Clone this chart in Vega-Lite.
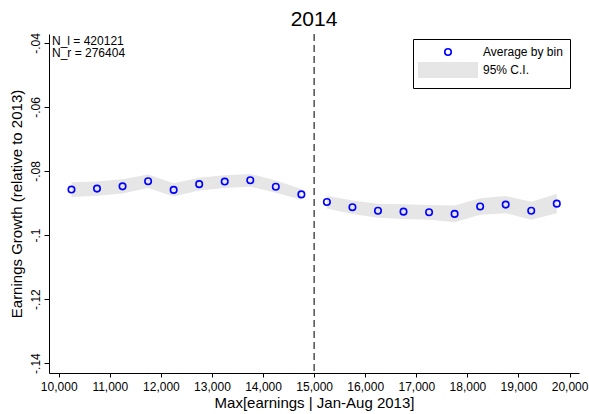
{
  "$schema": "https://vega.github.io/schema/vega-lite/v6.json",
  "width": 530,
  "height": 339,
  "autosize": {"type": "none"},
  "padding": {"left": 49, "top": 34, "right": 10, "bottom": 41},
  "background": "white",
  "title": {"text": "2014", "fontSize": 21, "font": "Liberation Sans", "fontWeight": "normal", "color": "black", "anchor": "middle", "offset": 3},
  "config": {
    "font": "Liberation Sans",
    "view": {"stroke": null},
    "axis": {"grid": false, "domainColor": "black", "tickColor": "black", "labelColor": "black", "titleColor": "black", "labelFont": "Liberation Sans", "titleFont": "Liberation Sans", "titleFontWeight": "normal", "labelFontSize": 12, "titleFontSize": 15, "labelFlush": false, "labelOverlap": false}
  },
  "datasets": {
    "bins": [
      {"bin": 10250, "avg": -0.0858, "hi": -0.0835, "lo": -0.0881, "side": "left", "series": "Average by bin"},
      {"bin": 10750, "avg": -0.0855, "hi": -0.0833, "lo": -0.0877, "side": "left", "series": "Average by bin"},
      {"bin": 11250, "avg": -0.0848, "hi": -0.0826, "lo": -0.0870, "side": "left", "series": "Average by bin"},
      {"bin": 11750, "avg": -0.0832, "hi": -0.0811, "lo": -0.0853, "side": "left", "series": "Average by bin"},
      {"bin": 12250, "avg": -0.0859, "hi": -0.0838, "lo": -0.0880, "side": "left", "series": "Average by bin"},
      {"bin": 12750, "avg": -0.0841, "hi": -0.0821, "lo": -0.0861, "side": "left", "series": "Average by bin"},
      {"bin": 13250, "avg": -0.0833, "hi": -0.0813, "lo": -0.0853, "side": "left", "series": "Average by bin"},
      {"bin": 13750, "avg": -0.0829, "hi": -0.0809, "lo": -0.0849, "side": "left", "series": "Average by bin"},
      {"bin": 14250, "avg": -0.0849, "hi": -0.0830, "lo": -0.0868, "side": "left", "series": "Average by bin"},
      {"bin": 14750, "avg": -0.0873, "hi": -0.0856, "lo": -0.0890, "side": "left", "series": "Average by bin"},
      {"bin": 15250, "avg": -0.0897, "hi": -0.0877, "lo": -0.0917, "side": "right", "series": "Average by bin"},
      {"bin": 15750, "avg": -0.0913, "hi": -0.0892, "lo": -0.0934, "side": "right", "series": "Average by bin"},
      {"bin": 16250, "avg": -0.0924, "hi": -0.0902, "lo": -0.0946, "side": "right", "series": "Average by bin"},
      {"bin": 16750, "avg": -0.0927, "hi": -0.0904, "lo": -0.0950, "side": "right", "series": "Average by bin"},
      {"bin": 17250, "avg": -0.0929, "hi": -0.0906, "lo": -0.0952, "side": "right", "series": "Average by bin"},
      {"bin": 17750, "avg": -0.0934, "hi": -0.0908, "lo": -0.0960, "side": "right", "series": "Average by bin"},
      {"bin": 18250, "avg": -0.0911, "hi": -0.0885, "lo": -0.0937, "side": "right", "series": "Average by bin"},
      {"bin": 18750, "avg": -0.0905, "hi": -0.0878, "lo": -0.0932, "side": "right", "series": "Average by bin"},
      {"bin": 19250, "avg": -0.0924, "hi": -0.0896, "lo": -0.0952, "side": "right", "series": "Average by bin"},
      {"bin": 19750, "avg": -0.0902, "hi": -0.0872, "lo": -0.0932, "side": "right", "series": "Average by bin"}
    ],
    "cutoff": [{"cut": 15000}],
    "notes": [{"label": "N_l = 420121\nN_r = 276404"}]
  },
  "layer": [
    {
      "data": {"name": "bins"},
      "mark": {"type": "area", "color": "#e6e6e6", "opacity": 1},
      "encoding": {
        "x": {
          "field": "bin", "type": "quantitative",
          "scale": {"domain": [9810, 20185], "nice": false, "zero": false},
          "axis": {"title": "Max[earnings | Jan-Aug 2013]", "values": [10000, 11000, 12000, 13000, 14000, 15000, 16000, 17000, 18000, 19000, 20000], "format": ",d", "tickSize": 4, "labelPadding": 4, "titlePadding": 3}
        },
        "y": {
          "field": "hi", "type": "quantitative",
          "scale": {"domain": [-0.1431, -0.0372], "nice": false, "zero": false},
          "axis": {"title": "Earnings Growth (relative to 2013)", "values": [-0.14, -0.12, -0.1, -0.08, -0.06, -0.04], "labelExpr": "'-.' + slice(format(-datum.value, '.2~f'), 2)", "labelAngle": -90, "labelAlign": "center", "labelBaseline": "alphabetic", "tickSize": 5, "labelPadding": 5, "titlePadding": 5}
        },
        "y2": {"field": "lo"},
        "detail": {"field": "side"}
      }
    },
    {
      "data": {"name": "cutoff"},
      "mark": {"type": "rule", "color": "#222222", "strokeWidth": 1.2, "strokeDash": [7, 4]},
      "encoding": {"x": {"field": "cut", "type": "quantitative"}}
    },
    {
      "data": {"name": "bins"},
      "mark": {"type": "point", "strokeWidth": 1.6, "size": 42, "opacity": 1},
      "encoding": {
        "x": {"field": "bin", "type": "quantitative"},
        "y": {"field": "avg", "type": "quantitative"},
        "shape": {
          "field": "series", "type": "nominal",
          "scale": {"domain": ["Average by bin", "95% C.I."], "range": ["circle", "M-9,-2.2H9V2.2H-9Z"]},
          "legend": {
            "title": null, "orient": "none", "legendX": 364, "legendY": 5,
            "strokeColor": "black", "fillColor": "white", "padding": 7,
            "labelFontSize": 12, "labelColor": "black", "labelFont": "Liberation Sans",
            "symbolSize": 42, "symbolStrokeWidth": 1.6, "symbolOffset": 22, "labelOffset": 29, "rowPadding": 0, "symbolOpacity": 1
          }
        },
        "stroke": {
          "field": "series", "type": "nominal",
          "scale": {"domain": ["Average by bin", "95% C.I."], "range": ["blue", "#e6e6e6"]}
        },
        "fill": {
          "field": "series", "type": "nominal",
          "scale": {"domain": ["Average by bin", "95% C.I."], "range": ["transparent", "#e6e6e6"]}
        }
      }
    },
    {
      "data": {"name": "notes"},
      "mark": {"type": "text", "align": "left", "baseline": "alphabetic", "fontSize": 12, "lineBreak": "\n", "lineHeight": 12.3, "color": "black", "font": "Liberation Sans"},
      "encoding": {
        "x": {"datum": 9869, "type": "quantitative"},
        "y": {"datum": -0.04063, "type": "quantitative"},
        "text": {"field": "label"}
      }
    }
  ]
}
